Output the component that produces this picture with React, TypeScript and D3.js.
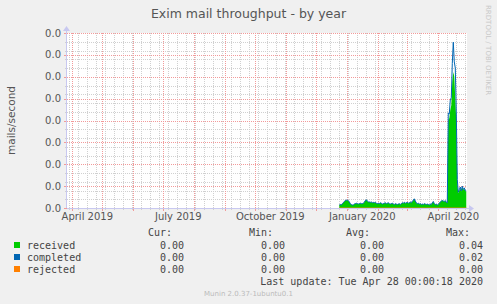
import React from 'react';
import * as d3 from 'd3';

const W = 497;
const H = 304;

const title = 'Exim mail throughput - by year';
const yAxisLabel = 'mails/second';
const watermark = 'RRDTOOL / TOBI OETIKER';
const footer = 'Munin 2.0.37-1ubuntu0.1';
const lastUpdate = 'Last update: Tue Apr 28 00:00:18 2020';

const seriesNames = ['received', 'completed', 'rejected'];
const seriesColors = ['#00CC00', '#0066B3', '#FF8000'];
const curValues = ['0.00', '0.00', '0.00'];
const minValues = ['0.00', '0.00', '0.00'];
const avgValues = ['0.00', '0.00', '0.00'];
const maxValues = ['0.04', '0.02', '0.00'];
const statHeaders = ['Cur:', 'Min:', 'Avg:', 'Max:'];

// daily values starting at this date
const firstDay = '2019-12-24';
const received = [
  0.0007, 0.0008, 0.0007, 0.0010, 0.0012, 0.0015, 0.0017, 0.0018, 0.0018, 0.0017,
  0.0014, 0.0010, 0.0008, 0.0007, 0.0007, 0.0009, 0.0010, 0.0011, 0.0010, 0.0009,
  0.0010, 0.0011, 0.0010, 0.0010, 0.0011, 0.0013, 0.0017, 0.0019, 0.0016, 0.0014,
  0.0014, 0.0013, 0.0014, 0.0012, 0.0013, 0.0012, 0.0013, 0.0011, 0.0010, 0.0011,
  0.0010, 0.0012, 0.0011, 0.0009, 0.0010, 0.0011, 0.0012, 0.0010, 0.0011, 0.0012,
  0.0010, 0.0009, 0.0010, 0.0011, 0.0009, 0.0008, 0.0010, 0.0009, 0.0008, 0.0009,
  0.0010, 0.0008, 0.0010, 0.0012, 0.0011, 0.0013, 0.0011, 0.0012, 0.0013, 0.0011,
  0.0012, 0.0014, 0.0012, 0.0015, 0.0018, 0.0021, 0.0016, 0.0012, 0.0010, 0.0011,
  0.0009, 0.0010, 0.0008, 0.0009, 0.0008, 0.0010, 0.0009, 0.0008, 0.0009, 0.0008,
  0.0007, 0.0009, 0.0008, 0.0012, 0.0015, 0.0010, 0.0008, 0.0009, 0.0007, 0.0008,
  0.0011, 0.0014, 0.0016, 0.0017, 0.0016, 0.0015, 0.0017, 0.0013, 0.0012, 0.0201,
  0.0205, 0.0224, 0.0235, 0.0290, 0.0311, 0.0300, 0.0250, 0.0200, 0.0060, 0.0034,
  0.0040, 0.0046, 0.0038, 0.0048, 0.0041, 0.0044, 0.0039, 0.0038,
];
const completed = [
  0.0007, 0.0008, 0.0007, 0.0010, 0.0012, 0.0015, 0.0017, 0.0018, 0.0018, 0.0017,
  0.0014, 0.0010, 0.0008, 0.0007, 0.0007, 0.0009, 0.0010, 0.0011, 0.0010, 0.0009,
  0.0010, 0.0011, 0.0010, 0.0010, 0.0011, 0.0013, 0.0017, 0.0019, 0.0016, 0.0014,
  0.0014, 0.0013, 0.0014, 0.0012, 0.0013, 0.0012, 0.0013, 0.0011, 0.0010, 0.0011,
  0.0010, 0.0012, 0.0011, 0.0009, 0.0010, 0.0011, 0.0012, 0.0010, 0.0011, 0.0012,
  0.0010, 0.0009, 0.0010, 0.0011, 0.0009, 0.0008, 0.0010, 0.0009, 0.0008, 0.0009,
  0.0010, 0.0008, 0.0010, 0.0012, 0.0011, 0.0013, 0.0011, 0.0012, 0.0013, 0.0011,
  0.0012, 0.0014, 0.0012, 0.0015, 0.0018, 0.0021, 0.0016, 0.0012, 0.0010, 0.0011,
  0.0009, 0.0010, 0.0008, 0.0009, 0.0008, 0.0010, 0.0009, 0.0008, 0.0009, 0.0008,
  0.0007, 0.0009, 0.0008, 0.0012, 0.0015, 0.0010, 0.0008, 0.0009, 0.0007, 0.0008,
  0.0011, 0.0014, 0.0016, 0.0017, 0.0016, 0.0015, 0.0017, 0.0013, 0.0012, 0.0217,
  0.0215, 0.0247, 0.0252, 0.0330, 0.0379, 0.0334, 0.0320, 0.0220, 0.0065, 0.0036,
  0.0042, 0.0048, 0.0039, 0.0050, 0.0042, 0.0046, 0.0040, 0.0039,
];
const rejected = [
  0, 0, 0, 0, 0, 0, 0, 0, 0, 0, 0, 0, 0, 0, 0, 0, 0, 0, 0, 0,
  0, 0, 0, 0, 0, 0, 0, 0, 0, 0, 0, 0, 0, 0, 0, 0, 0, 0, 0, 0,
  0, 0, 0, 0, 0, 0, 0, 0, 0, 0, 0, 0, 0, 0, 0, 0, 0, 0, 0, 0,
  0, 0, 0, 0, 0, 0, 0, 0, 0, 0, 0, 0, 0, 0, 0, 0, 0, 0, 0, 0,
  0, 0, 0, 0, 0, 0, 0, 0, 0, 0, 0, 0, 0, 0, 0, 0, 0, 0, 0, 0,
  0, 0, 0, 0, 0, 0, 0, 0, 0, 0, 0, 0, 0, 0, 0, 0, 0, 0, 0, 0,
  0, 0, 0, 0, 0, 0, 0, 0,
];

const xDomain = [new Date(Date.UTC(2019, 2, 26, 17)), new Date(Date.UTC(2020, 3, 29, 17))];
const yDomain = [0, 0.04];
const minorGridStartDay = '2019-03-29';
const minorGridStepDays = 9;

const L = 67, R = 467, T = 33, B = 208;

const SANS = "'DejaVu Sans', sans-serif";
const MONO = "'DejaVu Sans Mono', monospace";

export default function App() {
  const x = d3.scaleUtc().domain(xDomain).range([L, R]);
  const y = d3.scaleLinear().domain(yDomain).range([B, T]);
  const parse = d3.utcParse('%Y-%m-%d');
  const start = parse(firstDay) as Date;
  const dates = received.map((_, i) => d3.utcDay.offset(start, i));

  const majorY = y.ticks(8);
  const minorY = y.ticks(16).filter((v) => !majorY.some((m) => Math.abs(m - v) < 1e-9));
  const months = d3.utcMonth.range(xDomain[0], xDomain[1]);
  const minorX = d3.utcDay
    .range(parse(minorGridStartDay) as Date, xDomain[1])
    .filter((_, i) => i % minorGridStepDays === 0);
  const labelMonths = months.filter((m) => m.getUTCMonth() % 3 === 0);
  const fmtLabel = d3.utcFormat('%B %Y');
  const fmtY = d3.format('.1f');

  const area = d3
    .area<number>()
    .x((_, i) => x(dates[i]))
    .y0(y(0))
    .y1((d) => y(d));
  const line = d3
    .line<number>()
    .x((_, i) => x(dates[i]))
    .y((d) => y(d));

  const px = (v: number) => Math.round(v) + 0.5;
  const mgrid = '#F29A9A';
  const grid = '#D0D0D0';
  const axisColor = '#C8C8F0';

  return (
    <svg
      width={W}
      height={H}
      style={{ position: 'absolute', left: 0, top: 0, display: 'block' }}
      xmlns="http://www.w3.org/2000/svg"
    >
      <rect x={0} y={0} width={W} height={H} fill="#F0F0F0" />
      <rect x={L} y={T} width={R - L} height={B - T} fill="#FFFFFF" />

      {/* minor grid */}
      <g stroke={grid} strokeWidth={1} strokeDasharray="1,1" shapeRendering="crispEdges">
        {minorX.map((d, i) => (
          <line key={'w' + i} x1={px(x(d))} x2={px(x(d))} y1={T} y2={B} />
        ))}
        {minorY.map((v, i) => (
          <line key={'my' + i} x1={L} x2={R} y1={px(y(v))} y2={px(y(v))} />
        ))}
      </g>
      <g stroke={grid} strokeWidth={1} shapeRendering="crispEdges">
        {minorX.map((d, i) => (
          <line key={'wt' + i} x1={px(x(d))} x2={px(x(d))} y1={B} y2={B + 2} />
        ))}
        {minorY.map((v, i) => (
          <line key={'myt' + i} x1={L - 2} x2={L} y1={px(y(v))} y2={px(y(v))} />
        ))}
      </g>
      {/* major grid */}
      <g stroke={mgrid} strokeWidth={1} strokeDasharray="1,1" shapeRendering="crispEdges">
        {months.map((d, i) => (
          <line key={'m' + i} x1={px(x(d))} x2={px(x(d))} y1={T} y2={B} />
        ))}
        {majorY.map((v, i) => (
          <line key={'My' + i} x1={L} x2={R} y1={px(y(v))} y2={px(y(v))} />
        ))}
      </g>
      <g stroke={mgrid} strokeWidth={1} shapeRendering="crispEdges">
        {months.map((d, i) => (
          <line key={'mt' + i} x1={px(x(d))} x2={px(x(d))} y1={B} y2={B + 3} />
        ))}
        {majorY.map((v, i) => (
          <line key={'Myt' + i} x1={L - 3} x2={L} y1={px(y(v))} y2={px(y(v))} />
        ))}
      </g>

      {/* data */}
      <path d={area(received) || ''} fill={seriesColors[0]} />
      <path d={line(completed) || ''} fill="none" stroke={seriesColors[1]} strokeWidth={1} />
      <path d={line(rejected) || ''} fill="none" stroke={seriesColors[2]} strokeWidth={1} />

      {/* axes */}
      <g stroke={axisColor} strokeWidth={1} shapeRendering="crispEdges">
        <line x1={L} x2={R + 3} y1={B + 0.5} y2={B + 0.5} />
        <line x1={L - 0.5} x2={L - 0.5} y1={T - 3} y2={B} />
      </g>
      <path d={`M${R + 2},${B - 3} L${R + 7},${B + 0.5} L${R + 2},${B + 4} Z`} fill={axisColor} />
      <path d={`M${L - 4},${T - 2} L${L - 0.5},${T - 7} L${L + 3},${T - 2} Z`} fill={axisColor} />

      {/* y labels */}
      <g fontFamily={SANS} fontSize={10} fill="#555555" textAnchor="end">
        {majorY.map((v, i) => (
          <text key={'yl' + i} x={61} y={y(v) + 3.5}>
            {fmtY(v)}
          </text>
        ))}
      </g>
      {/* x labels */}
      <g fontFamily={SANS} fontSize={10} fill="#555555" textAnchor="middle">
        {labelMonths.map((d, i) => (
          <text key={'xl' + i} x={x(d3.utcDay.offset(d, 15))} y={220}>
            {fmtLabel(d)}
          </text>
        ))}
      </g>

      {/* title */}
      <text x={W / 2} y={18} textAnchor="middle" fontFamily={SANS} fontSize={12.5} fill="#555555">
        {title}
      </text>
      <text
        transform={`translate(15, ${(T + B) / 2}) rotate(-90)`}
        textAnchor="middle"
        fontFamily={SANS}
        fontSize={10.5}
        fill="#555555"
      >
        {yAxisLabel}
      </text>
      <text
        transform={`translate(486, 5) rotate(90)`}
        fontFamily={SANS}
        fontSize={7}
        fill="#C8C8C8"
      >
        {watermark}
      </text>

      {/* legend */}
      <g fontFamily={MONO} fontSize={10} fill="#444444">
        {statHeaders.map((h, i) => (
          <text key={'h' + i} x={[172, 273, 370, 470][i]} y={236} textAnchor="end">
            {h}
          </text>
        ))}
        {seriesNames.map((name, i) => (
          <g key={'lg' + i}>
            <rect x={14} y={242 + i * 12} width={6} height={6} fill={seriesColors[i]} />
            <text x={27} y={248.5 + i * 12}>{name}</text>
            <text x={184} y={248.5 + i * 12} textAnchor="end">{curValues[i]}</text>
            <text x={285} y={248.5 + i * 12} textAnchor="end">{minValues[i]}</text>
            <text x={384} y={248.5 + i * 12} textAnchor="end">{avgValues[i]}</text>
            <text x={483} y={248.5 + i * 12} textAnchor="end">{maxValues[i]}</text>
          </g>
        ))}
        <text x={483} y={284.5} textAnchor="end">{lastUpdate}</text>
      </g>
      <text x={W / 2} y={296} textAnchor="middle" fontFamily={SANS} fontSize={7} fill="#BBBBBB">
        {footer}
      </text>
    </svg>
  );
}
